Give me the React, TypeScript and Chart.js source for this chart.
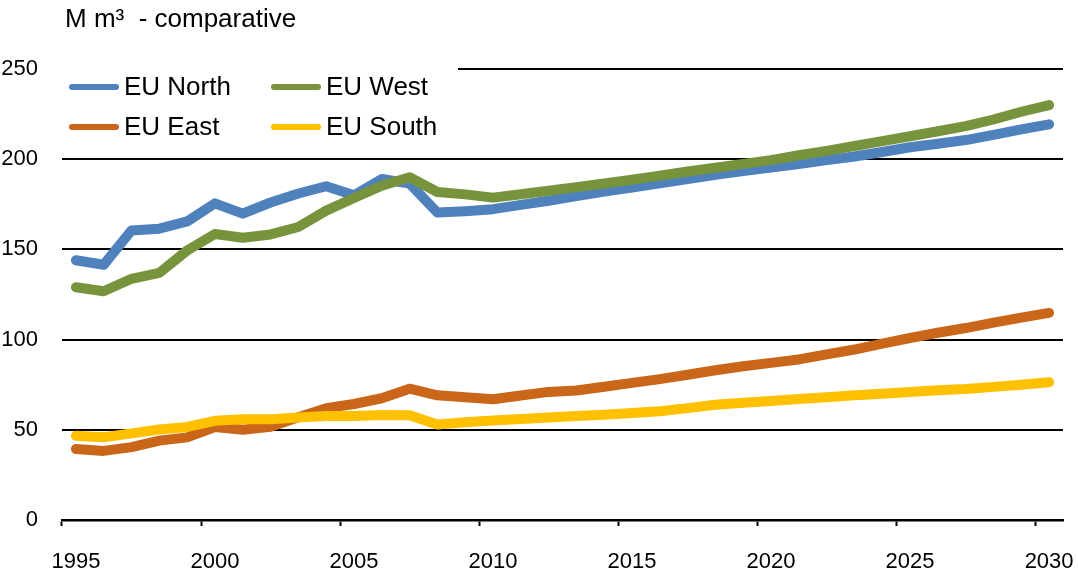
import React, { useEffect, useRef } from "react";
import { Chart, registerables } from "chart.js";

Chart.register(...registerables);

const years: string[] = [
  "1995", "1996", "1997", "1998", "1999", "2000", "2001", "2002", "2003", "2004",
  "2005", "2006", "2007", "2008", "2009", "2010", "2011", "2012", "2013", "2014",
  "2015", "2016", "2017", "2018", "2019", "2020", "2021", "2022", "2023", "2024",
  "2025", "2026", "2027", "2028", "2029", "2030",
];

const euNorth: number[] = [
  144, 141.5, 160.5, 161.5, 165.5, 175.5, 169.8, 176, 181, 185,
  180, 189, 186.5, 170.4, 171.2, 172.3, 174.7, 177, 179.5, 182,
  184.3, 186.7, 189, 191.4, 193.4, 195.4, 197.3, 199.5, 201.5, 204,
  206.6, 208.6, 210.6, 213.5, 216.5, 219.3,
];

const euWest: number[] = [
  129, 126.8, 133.7, 137, 149.4, 158.5, 156.5, 158.3, 162.4, 171.5,
  178.5, 185.3, 190, 181.8, 180.5, 178.7, 180.6, 182.5, 184.5, 186.5,
  188.6, 190.9, 193.2, 195.3, 197.4, 199.5, 202.2, 204.6, 207.3, 210,
  212.7, 215.5, 218.3, 222, 226.3, 230,
];

const euEast: number[] = [
  39.4, 38.3, 40.4, 44, 45.8, 51.5, 50, 51.7, 57, 62,
  64.3, 67.5, 72.8, 69.1, 68.1, 66.9, 69, 71, 71.8, 73.9,
  76, 78.1, 80.5, 83, 85.2, 87.1, 89, 91.8, 94.5, 97.8,
  100.9, 103.8, 106.4, 109.4, 112.2, 114.8,
];

const euSouth: number[] = [
  46.7, 45.9, 48, 50.2, 51.6, 55, 55.8, 55.9, 56.8, 57.6,
  57.7, 58.2, 58.1, 52.9, 54.2, 55.2, 56, 56.8, 57.6, 58.4,
  59.3, 60.3, 62, 63.9, 65, 66, 67.1, 68.1, 69.1, 70,
  71, 71.9, 72.6, 73.8, 75, 76.3,
];

const seriesNames: string[] = ["EU North", "EU West", "EU East", "EU South"];
const seriesColors: string[] = ["#4F81BD", "#77933C", "#C9661A", "#FFC000"];
const unitTitle = "M m³  - comparative";

const FONT = "'Liberation Sans', Arial, Helvetica, sans-serif";

const overlayPlugin = {
  id: "overlayLegend",
  beforeDatasetsDraw(chart: any) {
    const { ctx, chartArea } = chart;
    ctx.save();
    ctx.fillStyle = "#ffffff";
    ctx.fillRect(chartArea.left - 2, chartArea.top - 4, 396 + 2, 8);
    ctx.restore();
  },
  afterDatasetsDraw(chart: any) {
    const { ctx, chartArea } = chart;
    ctx.save();
    ctx.fillStyle = "#000000";
    ctx.font = `26px ${FONT}`;
    ctx.textAlign = "left";
    ctx.textBaseline = "alphabetic";
    ctx.fillText(unitTitle, chartArea.left + 3, 27);
    const ds = chart.data.datasets;
    const colX = [chartArea.left + 10, chartArea.left + 212];
    const rowY = [chartArea.top + 18, chartArea.top + 58];
    ds.forEach((d: any, i: number) => {
      const cx = colX[i % 2];
      const cy = rowY[Math.floor(i / 2)];
      ctx.strokeStyle = d.borderColor;
      ctx.lineWidth = 6;
      ctx.lineCap = "round";
      ctx.beginPath();
      ctx.moveTo(cx, cy);
      ctx.lineTo(cx + 44, cy);
      ctx.stroke();
      ctx.fillStyle = "#000000";
      ctx.font = `26px ${FONT}`;
      ctx.textBaseline = "middle";
      ctx.textAlign = "left";
      ctx.fillText(d.label, cx + 52, cy + 1);
    });
    ctx.restore();
  },
};

export default function App() {
  const canvasRef = useRef<HTMLCanvasElement | null>(null);

  useEffect(() => {
    document.body.style.margin = "0";
    const canvas = canvasRef.current;
    if (!canvas) return;
    const values = [euNorth, euWest, euEast, euSouth];
    const chart = new Chart(canvas, {
      type: "line",
      data: {
        labels: years,
        datasets: values.map((v, i) => ({
          label: seriesNames[i],
          data: v,
          borderColor: seriesColors[i],
          backgroundColor: seriesColors[i],
          borderWidth: 10,
          pointRadius: 0,
          pointHoverRadius: 0,
          tension: 0,
          fill: false,
          borderCapStyle: "round" as const,
          borderJoinStyle: "round" as const,
          order: 4 - i,
        })),
      },
      options: {
        responsive: false,
        animation: false,
        devicePixelRatio: 1,
        layout: { padding: { top: 69, left: 0, right: 15, bottom: 0 } },
        plugins: {
          legend: { display: false },
          tooltip: { enabled: false },
          title: { display: false },
        },
        scales: {
          x: {
            type: "category",
            offset: true,
            afterFit: (scale: any) => {
              scale.height = 53;
              scale.paddingLeft = 0;
              scale.paddingRight = 0;
            },
            grid: {
              offset: true,
              drawOnChartArea: false,
              drawTicks: true,
              tickLength: 6,
              tickWidth: 2,
              tickColor: (ctx: any) =>
                ctx.index !== undefined && ctx.index % 5 === 0 ? "#000000" : "rgba(0,0,0,0)",
            },
            border: { display: true, color: "#000000", width: 2.5 },
            ticks: {
              autoSkip: false,
              maxRotation: 0,
              minRotation: 0,
              padding: 23,
              color: "#000000",
              font: { family: FONT, size: 22 },
              callback: (_v: any, idx: number) =>
                Number(years[idx]) % 5 === 0 ? years[idx] : "",
            },
          },
          y: {
            min: 0,
            max: 250,
            afterFit: (scale: any) => {
              scale.width = 62;
              scale.paddingTop = 0;
              scale.paddingBottom = 0;
            },
            grid: {
              color: "#000000",
              lineWidth: 2,
              drawTicks: false,
            },
            border: { display: false },
            ticks: {
              stepSize: 50,
              padding: 24,
              color: "#000000",
              font: { family: FONT, size: 22 },
            },
          },
        },
      },
      plugins: [overlayPlugin],
    });
    return () => chart.destroy();
  }, []);

  return (
    <div style={{ width: 1078, height: 573, background: "#ffffff" }}>
      <canvas ref={canvasRef} width={1078} height={573} style={{ display: "block" }} />
    </div>
  );
}
